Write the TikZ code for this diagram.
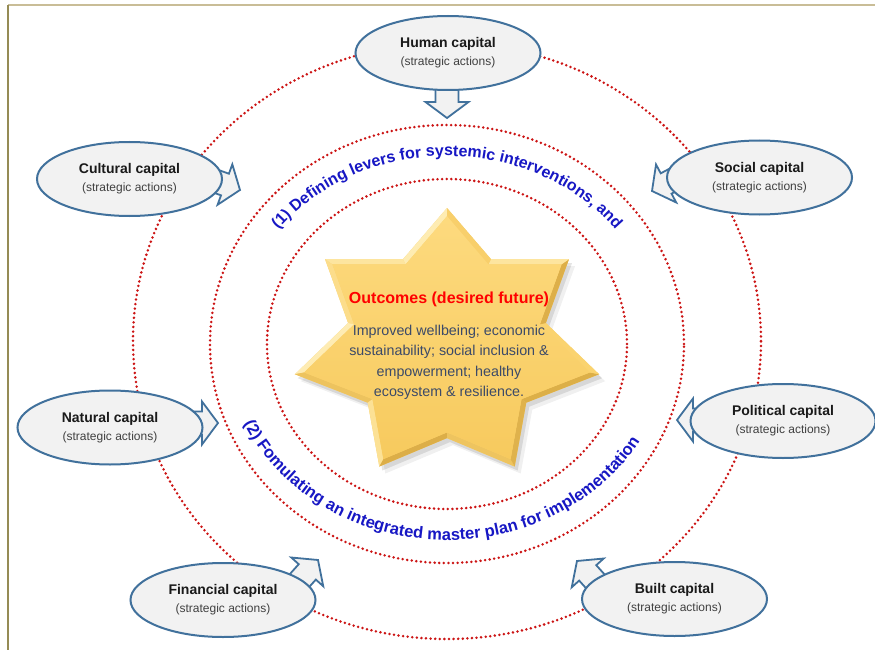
\documentclass[tikz,border=0pt]{standalone}
\usepackage{fontspec}
\setmainfont{Liberation Sans}
\usetikzlibrary{shapes.geometric,decorations.text}

\definecolor{ringred}{HTML}{CC1414}
\definecolor{capborder}{HTML}{41719C}
\definecolor{capfill}{HTML}{F2F2F2}
\definecolor{subgray}{HTML}{404040}
\definecolor{titleblack}{HTML}{1A1A1A}
\definecolor{pathblue}{HTML}{1717C4}
\definecolor{outred}{HTML}{FF0000}
\definecolor{outtext}{HTML}{3C4A68}
\definecolor{framebeige}{HTML}{C9BD97}
\definecolor{frameolive}{HTML}{958B55}
\definecolor{starface}{HTML}{FAD26E}
\definecolor{startop}{HTML}{FDDA7E}
\definecolor{starbot}{HTML}{F7CA5E}
\definecolor{bevlight}{HTML}{FFF3C4}
\definecolor{bevdark}{HTML}{C8972F}

% seven-pointed star, outer radii 156/136, inner radii 101.4/94.1
\def\starpts{(90:156pt and 136pt) -- (115.714:101.4pt and 94.1pt)
  -- (141.429:156pt and 136pt) -- (167.143:101.4pt and 94.1pt)
  -- (192.857:156pt and 136pt) -- (218.571:101.4pt and 94.1pt)
  -- (244.286:156pt and 136pt) -- (270:101.4pt and 94.1pt)
  -- (295.714:156pt and 136pt) -- (321.429:101.4pt and 94.1pt)
  -- (347.143:156pt and 136pt) -- (12.857:101.4pt and 94.1pt)
  -- (38.571:156pt and 136pt) -- (64.286:101.4pt and 94.1pt) -- cycle}

\tikzset{
  dottedring/.style={draw=ringred, line width=2.8pt, line cap=round,
    dash pattern=on 0pt off 4.6pt},
  capnode/.style={ellipse, draw=capborder, line width=2pt, fill=capfill,
    minimum width=185pt, minimum height=74pt, inner sep=0pt, align=center,
    text=titleblack, font=\fontsize{14}{18}\selectfont},
  arrowbox/.style={draw=capborder, line width=1.8pt, fill=capfill, line join=miter},
  pics/blockarrow/.style={code={
    \draw[arrowbox] (0,0) -- (-16,21.5) -- (-16,11.5) -- (-50,11.5)
      -- (-50,-11.5) -- (-16,-11.5) -- (-16,-21.5) -- cycle;
  }},
}

\newcommand\captext[1]{\textbf{#1}\\{\fontsize{12}{18}\selectfont\color{subgray}(strategic actions)}}

\begin{document}
\begin{tikzpicture}[x=1pt,y=1pt]
  \useasboundingbox (0,0) rectangle (875,-650);
  \fill[white] (0,0) rectangle (875,-650);

  % page frame
  \draw[framebeige, line width=1.8pt] (8,-5) -- (875,-5);
  \draw[frameolive, line width=1.8pt] (8,-5) -- (8,-650);

  % dotted rings
  \draw[dottedring] (447,-341) ellipse [x radius=314pt, y radius=298pt];
  \draw[dottedring] (447,-344) ellipse [x radius=237pt, y radius=219pt];
  \draw[dottedring] (447,-344) ellipse [x radius=180pt, y radius=165pt];

  % star with bevelled rim and soft shadow
  \begin{scope}[shift={(447,-344)}]
    \fill[black, opacity=0.06, shift={(6,-7)}] \starpts;
    \fill[black, opacity=0.10, shift={(3,-4)}] \starpts;
    \fill[starface] \starpts;
    \foreach \k in {0,...,13}{
      \pgfmathsetmacro\aA{90+\k*360/14}
      \pgfmathsetmacro\aB{90+(\k+1)*360/14}
      \pgfmathsetmacro\rxA{mod(\k,2)==0 ? 156 : 101.4}
      \pgfmathsetmacro\ryA{mod(\k,2)==0 ? 136 : 94.1}
      \pgfmathsetmacro\rxB{mod(\k,2)==0 ? 101.4 : 156}
      \pgfmathsetmacro\ryB{mod(\k,2)==0 ? 94.1 : 136}
      \pgfmathsetmacro\xA{\rxA*cos(\aA)}
      \pgfmathsetmacro\yA{\ryA*sin(\aA)}
      \pgfmathsetmacro\xB{\rxB*cos(\aB)}
      \pgfmathsetmacro\yB{\ryB*sin(\aB)}
      \pgfmathsetmacro\nang{atan2(\xA-\xB,\yB-\yA)}
      \pgfmathsetmacro\cv{cos(\nang-135)}
      \ifdim\cv pt>0pt
        \pgfmathsetmacro\pc{80*\cv}
        \colorlet{bevc}{bevlight!\pc!starface}
      \else
        \pgfmathsetmacro\pc{-65*\cv}
        \colorlet{bevc}{bevdark!\pc!starface}
      \fi
      \fill[bevc] (\xA,\yA) -- (\xB,\yB) -- ({0.94*\xB},{0.94*\yB})
        -- ({0.94*\xA},{0.94*\yA}) -- cycle;
    }
    \shade[top color=startop, bottom color=starbot, scale=0.94] \starpts;
  \end{scope}

  % outcome texts inside the star
  \node[font=\bfseries\fontsize{16}{19}\selectfont, text=outred] (outtitle)
    at (449,-299) {Outcomes (desired future)};
  \node[font=\fontsize{14.3}{20.5}\selectfont, text=outtext, align=center] (outbody)
    at (449,-362.5) {Improved wellbeing; economic\\sustainability; social inclusion \&\\empowerment; healthy\\ecosystem \& resilience.};

  % curved captions between the rings
  \path[shift={(447,-344)}, decorate, decoration={text along path, text align=center,
      text={|\fontsize{16}{18}\selectfont\bfseries\color{pathblue}|(1) Defining levers for systemic interventions, and}}]
    (160:212pt and 188pt) arc[start angle=160, end angle=20, x radius=212pt, y radius=188pt];
  \path[shift={(447,-344)}, decorate, decoration={text along path, text align=center,
      text={|\fontsize{16.5}{18}\selectfont\bfseries\color{pathblue}|(2) Fomulating an integrated master plan for implementation}}]
    (188:222pt and 196pt) arc[start angle=188, end angle=346, x radius=222pt, y radius=196pt];

  % block arrows pointing inwards
  \pic[rotate=-90] at (447,-118) {blockarrow};
  \pic[rotate=-20] at (240,-190) {blockarrow};
  \pic[rotate=208] at (652,-191) {blockarrow};
  \pic at (218,-423) {blockarrow};
  \pic[rotate=180] at (677,-420) {blockarrow};
  \pic[rotate=48] at (318,-560) {blockarrow};
  \pic[rotate=132] at (577,-561) {blockarrow};

  % capital nodes
  \node[capnode] (human) at (448,-53) {\captext{Human capital}};
  \node[capnode] (cultural) at (129.5,-179) {\captext{Cultural capital}};
  \node[capnode] (social) at (759.5,-177.5) {\captext{Social capital}};
  \node[capnode] (natural) at (110,-427.5) {\captext{Natural capital}};
  \node[capnode] (political) at (783,-421) {\captext{Political capital}};
  \node[capnode] (financial) at (223,-600) {\captext{Financial capital}};
  \node[capnode] (built) at (674.5,-599) {\captext{Built capital}};
\end{tikzpicture}
\end{document}
